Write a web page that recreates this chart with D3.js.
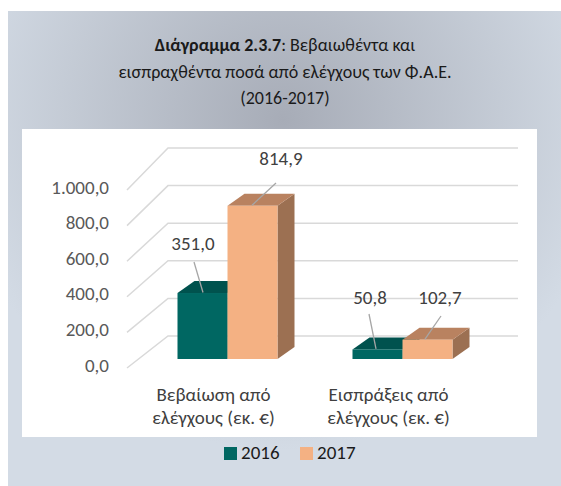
<!DOCTYPE html>
<html>
<head>
<meta charset="utf-8">
<script src="https://cdn.jsdelivr.net/npm/d3@7"></script>
<style>
  body { margin: 0; background: #fff; }
  svg { display: block; font-family: Carlito, Calibri, Lato, sans-serif; }
</style>
</head>
<body>
<svg id="chart" width="561" height="486"></svg>
<script>
// data
const categories = ['Βεβαίωση από|ελέγχους (εκ. €)', 'Εισπράξεις από|ελέγχους (εκ. €)'];
const series = ['2016', '2017'];
const values2016 = [351.0, 50.8];
const values2017 = [814.9, 102.7];
const yTicks = [0, 200, 400, 600, 800, 1000];
const valueLabels = [['351,0', '50,8'], ['814,9', '102,7']];

const colours = {
  '2016': { front: '#006762', top: '#00524e', side: '#004a46' },
  '2017': { front: '#f4b183', top: '#b98260', side: '#9c7052' }
};

const fmt = v => {
  const s = v.toFixed(1).replace('.', ',');
  return v >= 1000 ? s.replace(/^(\d)(\d{3})/, '$1.$2') : s;
};

const svg = d3.select('#chart');
const defs = svg.append('defs');

// radial background gradient
const grad = defs.append('radialGradient')
  .attr('id', 'bg')
  .attr('gradientUnits', 'userSpaceOnUse')
  .attr('cx', 283).attr('cy', 120).attr('r', 330);
grad.append('stop').attr('offset', '0%').attr('stop-color', '#a7acb7');
grad.append('stop').attr('offset', '100%').attr('stop-color', '#d3dbe5');

svg.append('rect')
  .attr('x', 8).attr('y', 11).attr('width', 553).attr('height', 475)
  .attr('fill', 'url(#bg)');

// inner plot area
svg.append('rect')
  .attr('x', 22).attr('y', 129).attr('width', 515).attr('height', 308)
  .attr('fill', '#fff');

// title
const title = svg.append('text')
  .attr('text-anchor', 'middle')
  .attr('fill', '#1a1a1a')
  .attr('font-size', 18);
const l1 = title.append('tspan').attr('x', 285).attr('y', 51);
l1.append('tspan').attr('font-weight', 'bold').text('Διάγραμμα 2.3.7');
l1.append('tspan').text(': Βεβαιωθέντα και');
title.append('tspan').attr('x', 285).attr('y', 78).text('εισπραχθέντα ποσά από ελέγχους των Φ.Α.Ε.');
title.append('tspan').attr('x', 285).attr('y', 104).text('(2016-2017)');

// scales: front edge of floor, back wall, and bar fronts
const yFront = d3.scaleLinear().domain([0, 1000]).range([368, 190]);
const yBack = d3.scaleLinear().domain([0, 1000]).range([336, 148]);
const yBar = d3.scaleLinear().domain([0, 1000]).range([359, 171]);
const x0 = d3.scaleBand().domain(categories).range([140, 490]);
const x1 = d3.scaleBand().domain(series).range([0, 100]);
const depth = { dx: 17, dy: -12 };

// gridlines
const grid = svg.append('g').attr('stroke', '#d9d9d9').attr('stroke-width', 1.5).attr('fill', 'none');
yTicks.forEach(t => {
  grid.append('path')
    .attr('d', `M127,${yFront(t)}L168,${yBack(t)}L518,${yBack(t)}`);
});

// y labels
svg.append('g').selectAll('text')
  .data(yTicks)
  .join('text')
  .attr('x', 109)
  .attr('y', d => yFront(d) - 1)
  .attr('text-anchor', 'end')
  .attr('dominant-baseline', 'middle')
  .attr('fill', '#595959')
  .attr('font-size', 19)
  .text(fmt);

// bars
const data = [];
categories.forEach((c, i) => {
  data.push({ cat: c, s: '2016', v: values2016[i], lab: valueLabels[0][i] });
  data.push({ cat: c, s: '2017', v: values2017[i], lab: valueLabels[1][i] });
});

const bars = svg.append('g');
data.forEach(d => {
  const x = x0(d.cat) + x0.bandwidth() / 2 - 50 + x1(d.s);
  const w = x1.bandwidth();
  const y = yBar(d.v), y0 = yBar(0);
  const c = colours[d.s];
  const g = bars.append('g');
  g.append('path')
    .attr('d', `M${x + w},${y0}L${x + w + depth.dx},${y0 + depth.dy}L${x + w + depth.dx},${y + depth.dy}L${x + w},${y}Z`)
    .attr('fill', c.side);
  g.append('path')
    .attr('d', `M${x},${y}L${x + depth.dx},${y + depth.dy}L${x + w + depth.dx},${y + depth.dy}L${x + w},${y}Z`)
    .attr('fill', c.top);
  g.append('rect')
    .attr('x', x).attr('y', y).attr('width', w).attr('height', y0 - y)
    .attr('fill', c.front);
  d.x = x; d.y = y; d.w = w;
});

// value labels with leader lines (offsets relative to the bar top)
const labelPos = {
  '351,0': { lx: 193, ly: 245, from: [194, 262], dx: 203 },
  '814,9': { lx: 281, ly: 160, from: [276, 183], dx: 252 },
  '50,8': { lx: 370, ly: 299, from: [369, 314], dx: 376 },
  '102,7': { lx: 440, ly: 299, from: [441, 316], dx: 425 }
};
data.forEach(d => {
  const p = labelPos[d.lab];
  svg.append('line')
    .attr('x1', p.from[0]).attr('y1', p.from[1])
    .attr('x2', p.dx).attr('y2', d.y - 0.5)
    .attr('stroke', '#a6a6a6').attr('stroke-width', 1.3);
  svg.append('text')
    .attr('x', p.lx).attr('y', p.ly)
    .attr('text-anchor', 'middle')
    .attr('dominant-baseline', 'middle')
    .attr('fill', '#404040')
    .attr('font-size', 19)
    .text(d.lab);
});

// category labels
categories.forEach(c => {
  const cx = x0(c) + x0.bandwidth() / 2 - 14;
  const t = svg.append('text')
    .attr('text-anchor', 'middle')
    .attr('fill', '#404040')
    .attr('font-size', 19);
  c.split('|').forEach((line, i) => {
    t.append('tspan').attr('x', cx).attr('y', 401 + i * 23).text(line);
  });
});

// legend
const legend = svg.append('g').attr('transform', 'translate(224,447)');
series.forEach((s, i) => {
  const g = legend.append('g').attr('transform', `translate(${i * 76},0)`);
  g.append('rect').attr('width', 13).attr('height', 13).attr('fill', colours[s].front);
  g.append('text')
    .attr('x', 17).attr('y', 7)
    .attr('dominant-baseline', 'middle')
    .attr('fill', '#1a1a1a')
    .attr('font-size', 19)
    .text(s);
});
</script>
</body>
</html>
